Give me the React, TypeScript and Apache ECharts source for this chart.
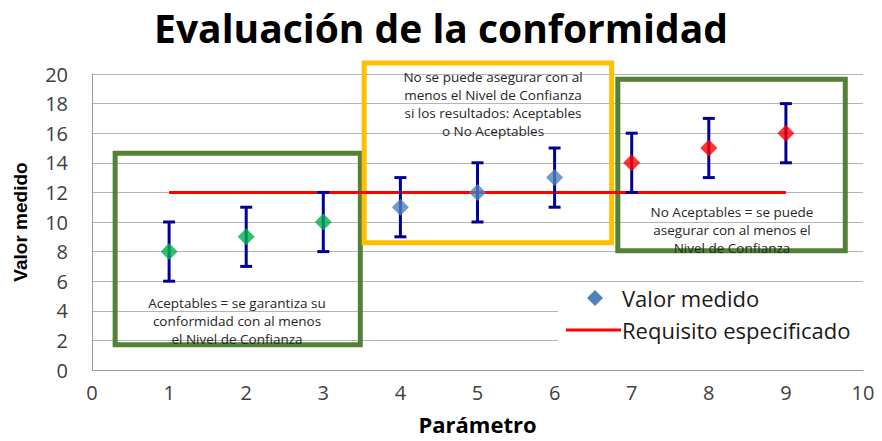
import React, { useEffect, useRef } from "react";
import * as echarts from "echarts";

const xValues = [1, 2, 3, 4, 5, 6, 7, 8, 9];
const measured = [8, 9, 10, 11, 12, 13, 14, 15, 16];
const errLow = [6, 7, 8, 9, 10, 11, 12, 13, 14];
const errHigh = [10, 11, 12, 13, 14, 15, 16, 17, 18];
const pointColors = ["#00b050", "#00b050", "#00b050", "#4f81bd", "#4f81bd", "#4f81bd", "#ff0000", "#ff0000", "#ff0000"];
const reqX = [1, 9];
const reqValue = 12;
// annotation boxes in data coordinates: [x1, y1, x2, y2]
const boxes = [
  [0.3, 14.65, 3.48, 1.7],
  [3.53, 20.75, 6.74, 8.6],
  [6.82, 19.65, 9.77, 8.05],
];
const boxColors = ["#538135", "#ffc000", "#538135"];

export default function App() {
  const ref = useRef<HTMLDivElement>(null);
  useEffect(() => {
    const chart = echarts.init(ref.current!, undefined, { renderer: "svg" });
    const noteFont = { fontFamily: "Open Sans", fontSize: 13.5, fill: "#262626", lineHeight: 18, textAlign: "center" as const };
    chart.setOption({
      animation: false,
      backgroundColor: "#ffffff",
      title: {
        text: "Evaluación de la conformidad",
        left: "center",
        top: 3,
        textStyle: { fontFamily: "Open Sans", fontWeight: "bold", fontSize: 39, color: "#000000" },
      },
      grid: { left: 92, right: 19, top: 74, bottom: 71, containLabel: false, outerBoundsMode: "none" },
      xAxis: {
        type: "value",
        min: 0,
        max: 10,
        interval: 1,
        name: "Parámetro",
        nameLocation: "middle",
        nameGap: 43,
        nameTextStyle: { fontFamily: "Open Sans", fontWeight: "bold", fontSize: 22, color: "#000" },
        axisLine: { show: true, lineStyle: { color: "#9a9a9a", width: 1 } },
        axisTick: { show: false },
        splitLine: { show: false },
        axisLabel: { margin: 12, fontFamily: "Open Sans", fontSize: 20, color: "#404040" },
      },
      yAxis: {
        type: "value",
        min: 0,
        max: 20,
        interval: 2,
        name: "Valor medido",
        nameLocation: "middle",
        nameGap: 62,
        nameTextStyle: { fontFamily: "Liberation Sans", fontWeight: "bold", fontSize: 19, color: "#000" },
        axisLine: { show: true, lineStyle: { color: "#9a9a9a", width: 1 } },
        axisTick: { show: false },
        splitLine: { show: true, lineStyle: { color: "#b5b5b5", width: 1 } },
        axisLabel: { margin: 24, fontFamily: "Open Sans", fontSize: 20, color: "#404040" },
      },
      series: [
        {
          type: "custom",
          name: "boxes",
          z: 1,
          data: boxes,
          renderItem: (params: any, api: any) => {
            const p1 = api.coord([api.value(0), api.value(1)]);
            const p2 = api.coord([api.value(2), api.value(3)]);
            return {
              type: "rect",
              shape: { x: p1[0], y: p1[1], width: p2[0] - p1[0], height: p2[1] - p1[1] },
              style: { fill: "none", stroke: boxColors[params.dataIndex], lineWidth: 5 },
            };
          },
        },
        {
          type: "line",
          name: "Requisito especificado",
          z: 2,
          data: reqX.map((x) => [x, reqValue]),
          symbol: "none",
          lineStyle: { color: "#ff0000", width: 3 },
        },
        {
          type: "custom",
          name: "error",
          z: 3,
          data: xValues.map((x, i) => [x, errLow[i], errHigh[i]]),
          renderItem: (params: any, api: any) => {
            const lo = api.coord([api.value(0), api.value(1)]);
            const hi = api.coord([api.value(0), api.value(2)]);
            const s = { stroke: "#000099", lineWidth: 3 };
            const w = 6;
            return {
              type: "group",
              children: [
                { type: "line", shape: { x1: lo[0], y1: lo[1], x2: hi[0], y2: hi[1] }, style: s },
                { type: "line", shape: { x1: lo[0] - w, y1: lo[1], x2: lo[0] + w, y2: lo[1] }, style: s },
                { type: "line", shape: { x1: hi[0] - w, y1: hi[1], x2: hi[0] + w, y2: hi[1] }, style: s },
              ],
            };
          },
        },
        {
          type: "scatter",
          name: "Valor medido",
          z: 4,
          symbol: "diamond",
          symbolSize: 17,
          data: xValues.map((x, i) => ({ value: [x, measured[i]], itemStyle: { color: pointColors[i] } })),
        },
      ],
      graphic: [
        { type: "text", x: 237, y: 294, style: { ...noteFont, text: "Aceptables = se garantiza su\nconformidad con al menos\nel Nivel de Confianza" }, z: 10 },
        { type: "text", x: 493, y: 68, style: { ...noteFont, text: "No se puede asegurar con al\nmenos el Nivel de Confianza\nsi los resultados: Aceptables\no No Aceptables" }, z: 10 },
        { type: "text", x: 732, y: 203, style: { ...noteFont, text: "No Aceptables = se puede\nasegurar con al menos el\nNivel de Confianza" }, z: 10 },
        { type: "rect", shape: { x: 558, y: 284, width: 306, height: 66 }, style: { fill: "#ffffff" }, z: 5 },
        { type: "polygon", shape: { points: [[595, 290], [603, 298], [595, 306], [587, 298]] }, style: { fill: "#4f81bd" }, z: 6 },
        { type: "text", x: 622, y: 298, style: { text: "Valor medido", fontFamily: "Open Sans", fontSize: 22, fill: "#1a1a1a", textVerticalAlign: "middle" }, z: 6 },
        { type: "line", shape: { x1: 566, y1: 330, x2: 621, y2: 330 }, style: { stroke: "#ff0000", lineWidth: 3 }, z: 6 },
        { type: "text", x: 622, y: 330, style: { text: "Requisito especificado", fontFamily: "Open Sans", fontSize: 22, fill: "#1a1a1a", textVerticalAlign: "middle" }, z: 6 },
      ],
    });
    return () => chart.dispose();
  }, []);
  return <div ref={ref} style={{ position: "absolute", left: 0, top: 0, width: 882, height: 441 }} />;
}
